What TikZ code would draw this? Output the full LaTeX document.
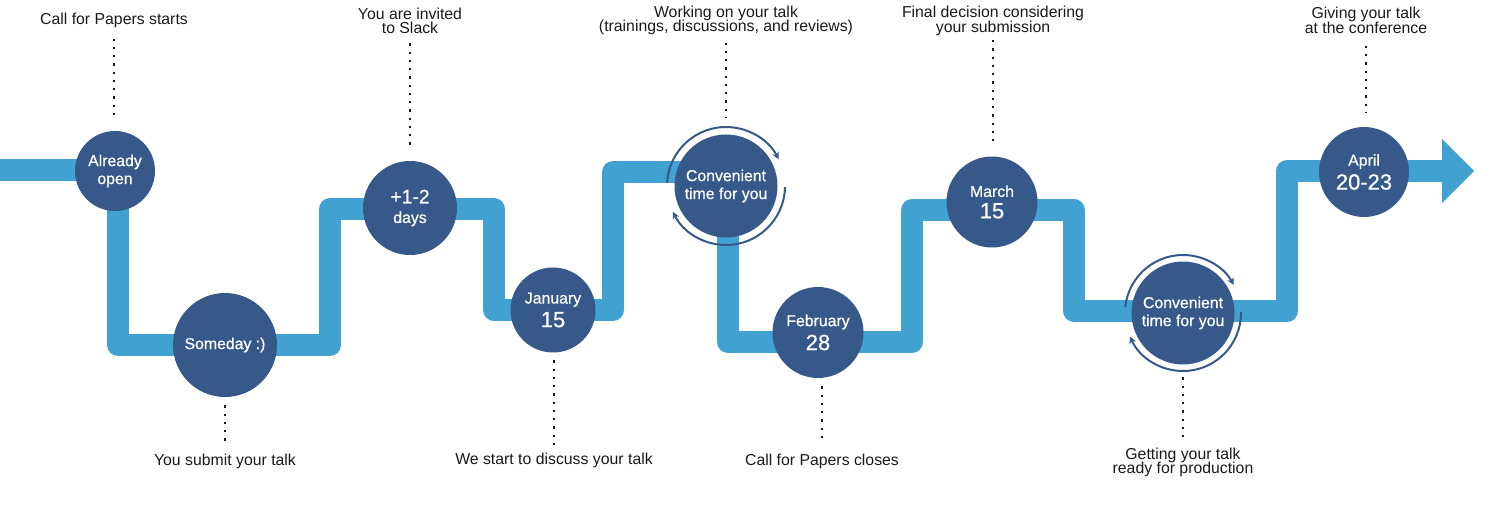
\documentclass[tikz,border=0pt]{standalone}
\usepackage{fontspec}
\setmainfont{Liberation Sans}
\newfontfamily\stepfont[FakeBold=0.6]{Liberation Sans}
\usetikzlibrary{arrows.meta}
\definecolor{trackblue}{RGB}{65,162,209}
\definecolor{stepblue}{RGB}{54,89,138}
\definecolor{labelgray}{RGB}{26,26,26}
\newcommand{\captionfont}{\fontsize{9}{8.3}\selectfont\lineskiplimit -5pt\relax}

\begin{document}
\begin{tikzpicture}[x=0.2mm, y=0.2mm,
    milestone/.style={circle, fill=stepblue, text=white, inner sep=0pt, align=center,
      font=\stepfont\fontsize{9}{10.2}\selectfont},
    caption/.style={align=center, inner sep=0pt, text=labelgray, font=\captionfont},
    dotline/.style={labelgray, line width=0.45mm, dash pattern=on 0.45mm off 1.2mm},
    turnarrow/.style={stepblue, line width=0.4mm, -{Stealth[length=1.4mm, width=1.4mm]}}]
    \useasboundingbox (0,0) rectangle (1500,504);

    % the track
    \draw[trackblue, line width=4.4mm, line join=round] (0,334) -- (118,334) -- (118,159)
      -- (330,159) -- (330,295) -- (494,295) -- (494,194) -- (613,194) -- (613,332)
      -- (728,332) -- (728,162) -- (912,162) -- (912,294) -- (1074,294) -- (1074,193)
      -- (1287,193) -- (1287,333) -- (1443,333);
    \fill[trackblue] (1442,365) -- (1474,333) -- (1442,301) -- cycle;

    % milestones
    \node[milestone, minimum size=16mm] (A) at (115,333) {Already\\open};
    \node[milestone, minimum size=20.8mm] (B) at (225,159) {Someday :)};
    \node[milestone, minimum size=18.8mm] (C) at (410,296) {{\fontsize{11}{11}\selectfont +1-2}\\[1pt]days};
    \node[milestone, minimum size=17mm] (D) at (553,194) {January\\[2pt]{\fontsize{12.5}{14}\selectfont 15}};
    \node[milestone, minimum size=20.6mm] (E) at (726,318) {Convenient\\time for you};
    \node[milestone, minimum size=18.2mm] (F) at (818,171.5) {February\\[2pt]{\fontsize{12.5}{14}\selectfont 28}};
    \node[milestone, minimum size=18.2mm] (G) at (992,302) {March\\[2pt]{\fontsize{12.5}{14}\selectfont 15}};
    \node[milestone, minimum size=20.6mm] (H) at (1183,191) {Convenient\\time for you};
    \node[milestone, minimum size=18mm] (I) at (1364,332) {April\\[2pt]{\fontsize{12.5}{14}\selectfont 20-23}};

    % turning arrows
    \draw[turnarrow] (E.center) ++(177:59) arc[start angle=177, end angle=27, radius=59];
    \draw[turnarrow] (E.center) ++(-1:59) arc[start angle=-1, end angle=-154, radius=59];
    \draw[turnarrow] (H.center) ++(174:58) arc[start angle=174, end angle=29, radius=58];
    \draw[turnarrow] (H.center) ++(1:58) arc[start angle=1, end angle=-156, radius=58];

    % captions
    \node[caption] (t1) at (114,484) {Call for Papers starts};
    \node[caption] (t2) at (225,43) {You submit your talk};
    \node[caption] (t3) at (410,483) {You are invited\\to Slack};
    \node[caption] (t4) at (554,44) {We start to discuss your talk};
    \node[caption] (t5) at (726,483.5) {Working on your talk\\(trainings, discussions, and reviews)};
    \node[caption] (t6) at (822,43) {Call for Papers closes};
    \node[caption] (t7) at (993,483) {Final decision considering\\your submission};
    \node[caption] (t8) at (1183,41.5) {Getting your talk\\ready for production};
    \node[caption] (t9) at (1366,483.5) {Giving your talk\\at the conference};

    % dotted leaders
    \draw[dotline, shorten <=2.2mm, shorten >=2.2mm] (t1.south) -- (t1.south |- A.north);
    \draw[dotline, shorten <=1.6mm, shorten >=1.9mm] (t2.north |- B.south) -- (t2.north);
    \draw[dotline, shorten <=1.8mm, shorten >=2.8mm] (t3.south) -- (t3.south |- C.north);
    \draw[dotline, shorten <=1.5mm, shorten >=0.8mm] (t4.north |- D.south) -- (t4.north);
    \draw[dotline, shorten <=1.4mm, shorten >=3.3mm] (t5.south) -- (t5.south |- E.north);
    \draw[dotline, shorten <=1.6mm, shorten >=2.2mm] (t6.north |- F.south) -- (t6.north);
    \draw[dotline, shorten <=0.8mm, shorten >=2.7mm] (t7.south) -- (t7.south |- G.north);
    \draw[dotline, shorten <=2.5mm, shorten >=1mm] (t8.north |- H.south) -- (t8.north);
    \draw[dotline, shorten <=2.4mm, shorten >=2.8mm] (t9.south) -- (t9.south |- I.north);
\end{tikzpicture}
\end{document}
